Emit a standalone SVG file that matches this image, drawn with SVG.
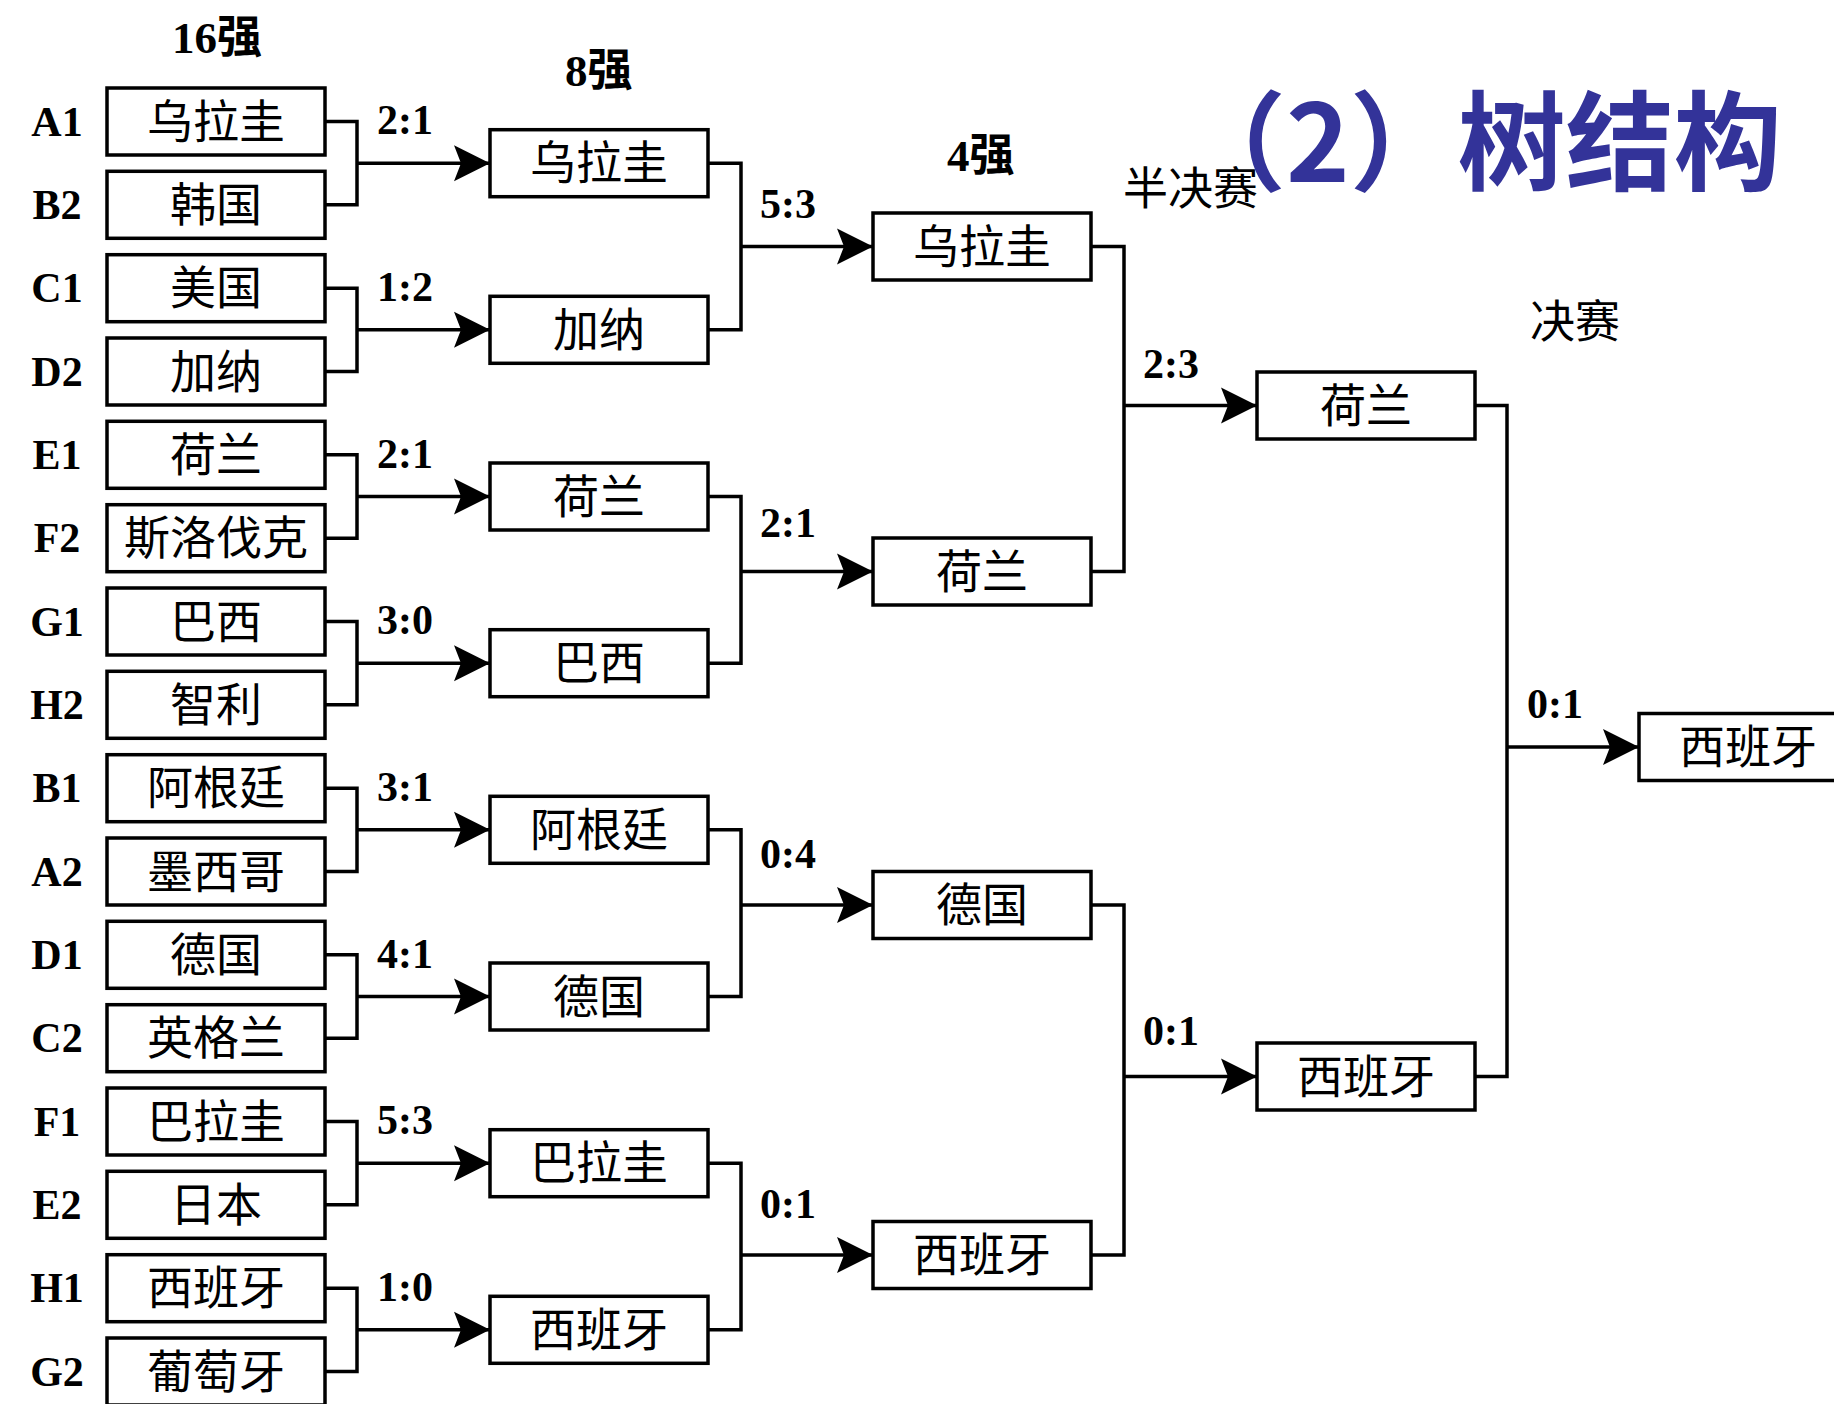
<svg xmlns="http://www.w3.org/2000/svg" width="1834" height="1404" viewBox="0 0 1834 1404">
<style>
.box{fill:#fff;stroke:#000;stroke-width:3.5}
.nm{font-family:"Noto Sans CJK SC",sans-serif;font-size:46px;text-anchor:middle;fill:#000}
.lb{font-family:"Liberation Serif","Noto Sans CJK SC",serif;font-size:42px;font-weight:bold;text-anchor:middle;fill:#000}
.sc{font-family:"Liberation Serif",serif;font-size:42px;font-weight:bold;fill:#000}
.stg{font-family:"Liberation Serif","Noto Sans CJK SC",serif;font-size:45px;font-weight:bold;fill:#000}
.stg2{font-family:"Noto Sans CJK SC",sans-serif;font-size:45px;fill:#000}
.title{font-family:"Noto Sans CJK SC",sans-serif;font-size:108px;font-weight:bold;fill:#333399}
.br{fill:none;stroke:#000;stroke-width:3.5}
.ar{fill:none;stroke:#000;stroke-width:3.5;marker-end:url(#ah)}
</style>
<defs>
<marker id="ah" markerUnits="userSpaceOnUse" markerWidth="38" markerHeight="38" viewBox="-36 -19 38 38" refX="0" refY="0" orient="auto">
<path d="M0,0 L-36,-18 L-29,0 L-36,18 Z" fill="#000"/>
</marker>
</defs>
<rect width="1834" height="1404" fill="#fff"/>

<g id="title"><text class="title" x="1178" y="182">（2）树结构</text></g>
<g id="stages">
<text class="stg" x="172" y="53">16强</text>
<text class="stg" x="565" y="86">8强</text>
<text class="stg" x="947" y="171">4强</text>
<text class="stg2" x="1123" y="205">半决赛</text>
<text class="stg2" x="1530" y="338">决赛</text>
</g>

<g id="connectors">
<path class="br" d="M325,121.5H357V204.8H325"/>
<path class="br" d="M325,288.2H357V371.5H325"/>
<path class="br" d="M325,454.8H357V538.2H325"/>
<path class="br" d="M325,621.5H357V704.8H325"/>
<path class="br" d="M325,788.2H357V871.5H325"/>
<path class="br" d="M325,954.8H357V1038.2H325"/>
<path class="br" d="M325,1121.5H357V1204.8H325"/>
<path class="br" d="M325,1288.2H357V1371.5H325"/>
<path class="ar" d="M357,163.2H490"/>
<path class="ar" d="M357,329.8H490"/>
<path class="ar" d="M357,496.5H490"/>
<path class="ar" d="M357,663.2H490"/>
<path class="ar" d="M357,829.8H490"/>
<path class="ar" d="M357,996.5H490"/>
<path class="ar" d="M357,1163.2H490"/>
<path class="ar" d="M357,1329.8H490"/>
<path class="br" d="M708,163.2H741V329.8H708"/>
<path class="br" d="M708,496.5H741V663.2H708"/>
<path class="br" d="M708,829.8H741V996.5H708"/>
<path class="br" d="M708,1163.2H741V1329.8H708"/>
<path class="ar" d="M741,246.5H873"/>
<path class="ar" d="M741,571.5H873"/>
<path class="ar" d="M741,905H873"/>
<path class="ar" d="M741,1255H873"/>
<path class="br" d="M1091,246.5H1124V571.5H1091"/>
<path class="br" d="M1091,905H1124V1255H1091"/>
<path class="ar" d="M1124,405.5H1257"/>
<path class="ar" d="M1124,1076.5H1257"/>
<path class="br" d="M1475,405.5H1507V1076.5H1475"/>
<path class="ar" d="M1507,747H1639"/>
</g>

<g id="scores">
<text class="sc" x="377" y="134.2">2:1</text>
<text class="sc" x="377" y="300.8">1:2</text>
<text class="sc" x="377" y="467.5">2:1</text>
<text class="sc" x="377" y="634.2">3:0</text>
<text class="sc" x="377" y="800.8">3:1</text>
<text class="sc" x="377" y="967.5">4:1</text>
<text class="sc" x="377" y="1134.2">5:3</text>
<text class="sc" x="377" y="1300.8">1:0</text>
<text class="sc" x="760" y="218">5:3</text>
<text class="sc" x="760" y="537">2:1</text>
<text class="sc" x="760" y="868">0:4</text>
<text class="sc" x="760" y="1218">0:1</text>
<text class="sc" x="1143" y="378">2:3</text>
<text class="sc" x="1143" y="1045">0:1</text>
<text class="sc" x="1527" y="718">0:1</text>
</g>

<g id="labels">
<text class="lb" x="57" y="135.5">A1</text>
<text class="lb" x="57" y="218.8">B2</text>
<text class="lb" x="57" y="302.2">C1</text>
<text class="lb" x="57" y="385.5">D2</text>
<text class="lb" x="57" y="468.8">E1</text>
<text class="lb" x="57" y="552.2">F2</text>
<text class="lb" x="57" y="635.5">G1</text>
<text class="lb" x="57" y="718.8">H2</text>
<text class="lb" x="57" y="802.2">B1</text>
<text class="lb" x="57" y="885.5">A2</text>
<text class="lb" x="57" y="968.8">D1</text>
<text class="lb" x="57" y="1052.2">C2</text>
<text class="lb" x="57" y="1135.5">F1</text>
<text class="lb" x="57" y="1218.8">E2</text>
<text class="lb" x="57" y="1302.2">H1</text>
<text class="lb" x="57" y="1385.5">G2</text>
</g>

<g id="r16-1"><rect class="box" x="107" y="88" width="218" height="67"/><text class="nm" x="216" y="137.5">乌拉圭</text></g>
<g id="r16-2"><rect class="box" x="107" y="171.3" width="218" height="67"/><text class="nm" x="216" y="220.8">韩国</text></g>
<g id="r16-3"><rect class="box" x="107" y="254.7" width="218" height="67"/><text class="nm" x="216" y="304.2">美国</text></g>
<g id="r16-4"><rect class="box" x="107" y="338" width="218" height="67"/><text class="nm" x="216" y="387.5">加纳</text></g>
<g id="r16-5"><rect class="box" x="107" y="421.3" width="218" height="67"/><text class="nm" x="216" y="470.8">荷兰</text></g>
<g id="r16-6"><rect class="box" x="107" y="504.7" width="218" height="67"/><text class="nm" x="216" y="554.2">斯洛伐克</text></g>
<g id="r16-7"><rect class="box" x="107" y="588" width="218" height="67"/><text class="nm" x="216" y="637.5">巴西</text></g>
<g id="r16-8"><rect class="box" x="107" y="671.3" width="218" height="67"/><text class="nm" x="216" y="720.8">智利</text></g>
<g id="r16-9"><rect class="box" x="107" y="754.7" width="218" height="67"/><text class="nm" x="216" y="804.2">阿根廷</text></g>
<g id="r16-10"><rect class="box" x="107" y="838" width="218" height="67"/><text class="nm" x="216" y="887.5">墨西哥</text></g>
<g id="r16-11"><rect class="box" x="107" y="921.3" width="218" height="67"/><text class="nm" x="216" y="970.8">德国</text></g>
<g id="r16-12"><rect class="box" x="107" y="1004.7" width="218" height="67"/><text class="nm" x="216" y="1054.2">英格兰</text></g>
<g id="r16-13"><rect class="box" x="107" y="1088" width="218" height="67"/><text class="nm" x="216" y="1137.5">巴拉圭</text></g>
<g id="r16-14"><rect class="box" x="107" y="1171.3" width="218" height="67"/><text class="nm" x="216" y="1220.8">日本</text></g>
<g id="r16-15"><rect class="box" x="107" y="1254.7" width="218" height="67"/><text class="nm" x="216" y="1304.2">西班牙</text></g>
<g id="r16-16"><rect class="box" x="107" y="1338" width="218" height="67"/><text class="nm" x="216" y="1387.5">葡萄牙</text></g>

<g id="qf-1"><rect class="box" x="490" y="129.7" width="218" height="67"/><text class="nm" x="599" y="179.2">乌拉圭</text></g>
<g id="qf-2"><rect class="box" x="490" y="296.3" width="218" height="67"/><text class="nm" x="599" y="345.8">加纳</text></g>
<g id="qf-3"><rect class="box" x="490" y="463" width="218" height="67"/><text class="nm" x="599" y="512.5">荷兰</text></g>
<g id="qf-4"><rect class="box" x="490" y="629.7" width="218" height="67"/><text class="nm" x="599" y="679.2">巴西</text></g>
<g id="qf-5"><rect class="box" x="490" y="796.3" width="218" height="67"/><text class="nm" x="599" y="845.8">阿根廷</text></g>
<g id="qf-6"><rect class="box" x="490" y="963" width="218" height="67"/><text class="nm" x="599" y="1012.5">德国</text></g>
<g id="qf-7"><rect class="box" x="490" y="1129.7" width="218" height="67"/><text class="nm" x="599" y="1179.2">巴拉圭</text></g>
<g id="qf-8"><rect class="box" x="490" y="1296.3" width="218" height="67"/><text class="nm" x="599" y="1345.8">西班牙</text></g>

<g id="sf-1"><rect class="box" x="873" y="213" width="218" height="67"/><text class="nm" x="982" y="262.5">乌拉圭</text></g>
<g id="sf-2"><rect class="box" x="873" y="538" width="218" height="67"/><text class="nm" x="982" y="587.5">荷兰</text></g>
<g id="sf-3"><rect class="box" x="873" y="871.5" width="218" height="67"/><text class="nm" x="982" y="921">德国</text></g>
<g id="sf-4"><rect class="box" x="873" y="1221.5" width="218" height="67"/><text class="nm" x="982" y="1271">西班牙</text></g>

<g id="f-1"><rect class="box" x="1257" y="372" width="218" height="67"/><text class="nm" x="1366" y="421.5">荷兰</text></g>
<g id="f-2"><rect class="box" x="1257" y="1043" width="218" height="67"/><text class="nm" x="1366" y="1092.5">西班牙</text></g>

<g id="champion"><rect class="box" x="1639" y="713.5" width="218" height="67"/><text class="nm" x="1748" y="763">西班牙</text></g>
</svg>
